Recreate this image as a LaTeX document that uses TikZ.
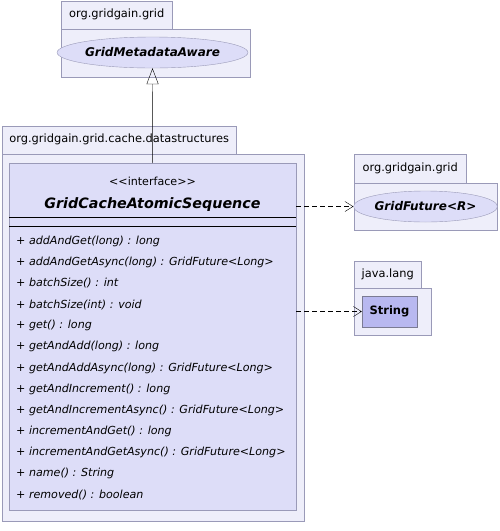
\documentclass[tikz,border=0pt]{standalone}
\usepackage{fontspec}
\setmainfont{DejaVu Sans}
\usetikzlibrary{positioning,arrows.meta,shapes.geometric}

\definecolor{pkgfill}{HTML}{EEEEFA}
\definecolor{clsfill}{HTML}{DDDDF8}
\definecolor{strfill}{HTML}{B8B8F0}
\definecolor{umlline}{HTML}{9A9AB8}

\begin{document}
\begin{tikzpicture}[x=1pt,y=-1pt,>=stealth]
\tikzstyle{pkgbody}=[draw=umlline,fill=pkgfill,anchor=north west,inner sep=0pt]
\tikzstyle{pkgtab}=[draw=umlline,fill=pkgfill,anchor=south west,inner sep=0pt,minimum height=28pt,font=\fontsize{11.4}{13}\selectfont]
\tikzstyle{iface}=[ellipse,draw=umlline,fill=clsfill,inner sep=0pt,minimum height=31pt,font=\bfseries\itshape\fontsize{12}{14}\selectfont]
\tikzstyle{opline}=[anchor=west,inner sep=0pt,font=\itshape\fontsize{11.1}{13}\selectfont]
\tikzstyle{depend}=[dashed,dash pattern=on 5pt off 3pt,-{Straight Barb[length=8pt,width=10pt]}]

\useasboundingbox (0,0) rectangle (499,531);

% org.gridgain.grid (top)
\node[pkgbody,minimum width=189pt,minimum height=48pt] (pgrid) at (61,29) {};
\node[pkgtab,minimum width=111pt] (pgridtab) at (pgrid.north west) {org.gridgain.grid};
\node[iface,minimum width=169pt] (meta) at (152.5,52.5) {GridMetadataAware};

% org.gridgain.grid.cache.datastructures
\node[pkgbody,minimum width=302pt,minimum height=367pt] (pds) at (2,154) {};
\node[pkgtab,minimum width=234pt] (pdstab) at (pds.north west) {org.gridgain.grid.cache.datastructures};
\node[draw=umlline,fill=clsfill,anchor=north west,inner sep=0pt,minimum width=287pt,minimum height=347pt] (seq) at (9,163) {};
\node[inner sep=0pt,font=\fontsize{11.1}{13}\selectfont] (stereo) at (152.5,181) {{<}{<}interface{>}{>}};
\node[inner sep=0pt,font=\bfseries\itshape\fontsize{14.3}{17}\selectfont] (seqname) at (152.5,205) {GridCacheAtomicSequence};
\draw (seq.west |- 0,217) -- (seq.east |- 0,217);
\draw (seq.west |- 0,226) -- (seq.east |- 0,226);
\foreach \op [count=\i] in {%
  + addAndGet(long) : long,
  + addAndGetAsync(long) : GridFuture<Long>,
  + batchSize() : int,
  + batchSize(int) : void,
  + get() : long,
  + getAndAdd(long) : long,
  + getAndAddAsync(long) : GridFuture<Long>,
  + getAndIncrement() : long,
  + getAndIncrementAsync() : GridFuture<Long>,
  + incrementAndGet() : long,
  + incrementAndGetAsync() : GridFuture<Long>,
  + name() : String,
  + removed() : boolean}
  \node[opline] (op\i) at (16,241+21.17*\i-21.17) {\op};

% org.gridgain.grid (right)
\node[pkgbody,minimum width=143pt,minimum height=47pt] (pfut) at (354,183) {};
\node[pkgtab,minimum width=112pt,minimum height=29pt] (pfuttab) at (pfut.north west) {org.gridgain.grid};
\node[iface,minimum width=127pt] (fut) at (425.5,206.5) {GridFuture<R>};

% java.lang
\node[pkgbody,minimum width=77pt,minimum height=47pt] (plang) at (354,288) {};
\node[pkgtab,minimum width=67pt,minimum height=27pt] (plangtab) at (plang.north west) {java.lang};
\node[draw=umlline!80!black,fill=strfill,inner sep=0pt,minimum width=55pt,minimum height=31pt,font=\bfseries\fontsize{11.5}{13}\selectfont] (str) at (389.5,311.5) {String};

% relations
\draw[-{Triangle[open,length=16pt,width=12pt]}] (seq.north) -- (meta.south);
\draw[depend] (seq.east |- fut.west) -- (fut.west);
\draw[depend] (seq.east |- str.west) -- (str.west);
\end{tikzpicture}
\end{document}
